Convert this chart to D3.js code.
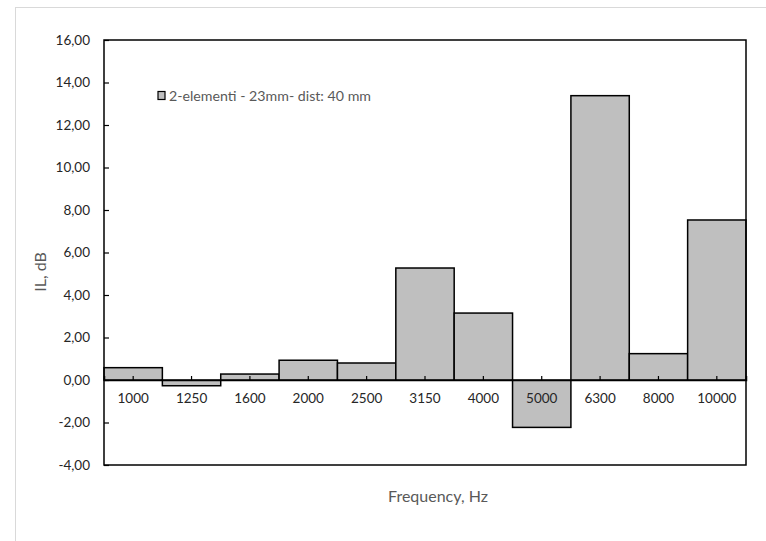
<!DOCTYPE html>
<html><head><meta charset="utf-8">
<script src="https://cdn.jsdelivr.net/npm/d3@7/dist/d3.min.js"></script>
<style>body{margin:0;background:#fff}svg{display:block}</style>
</head><body>
<script>
const categories = ["1000","1250","1600","2000","2500","3150","4000","5000","6300","8000","10000"];
const values = [0.58,-0.27,0.28,0.93,0.80,5.27,3.15,-2.23,13.38,1.24,7.53];
const yTicks = [-4,-2,0,2,4,6,8,10,12,14,16];
const seriesName = "2-elementi - 23mm- dist: 40 mm";

const W = 766, H = 541;
const m = {left:104, top:40, right:746, bottom:465};
const font = "Lato, 'Open Sans', sans-serif";
const svg = d3.select("body").append("svg").attr("width",W).attr("height",H);
svg.append("rect").attr("x",15.5).attr("y",7.5).attr("width",W).attr("height",H)
  .attr("fill","#fff").attr("stroke","#d9d9d9");

const x = d3.scaleBand().domain(categories).range([m.left,m.right]).padding(0);
const y = d3.scaleLinear().domain([-4,16]).range([m.bottom,m.top]);

// bars
svg.append("g").selectAll("rect").data(values).join("rect")
  .attr("x",(d,i)=>x(categories[i]))
  .attr("width",x.bandwidth())
  .attr("y",d=>y(Math.max(0,d)))
  .attr("height",d=>Math.abs(y(d)-y(0)))
  .attr("fill","#bfbfbf").attr("stroke","#000").attr("stroke-width",1.5);

// y axis
const ya = svg.append("g").attr("transform",`translate(${m.left},0)`)
  .call(d3.axisLeft(y).tickValues(yTicks).tickSize(-5).tickPadding(14)
    .tickFormat(d=>d3.format(".2f")(d).replace(".",",").replace("−","-")));
ya.select(".domain").remove();
ya.selectAll("line").attr("stroke","#000").attr("stroke-width",1.2);
ya.selectAll("text").attr("font-family",font).attr("font-size",13.5).attr("fill","#262626");

// x axis at zero
const xa = svg.append("g").attr("transform",`translate(0,${y(0)})`)
  .call(d3.axisBottom(x).tickSize(-4).tickPadding(13));
xa.select(".domain").attr("stroke","#000").attr("stroke-width",1.5);
xa.selectAll("line").attr("stroke","#000").attr("stroke-width",1.2);
xa.selectAll("text").attr("font-family",font).attr("font-size",13.5).attr("fill","#262626");

// plot frame
svg.append("rect").attr("x",m.left).attr("y",m.top)
  .attr("width",m.right-m.left).attr("height",m.bottom-m.top)
  .attr("fill","none").attr("stroke","#000").attr("stroke-width",1.5);

// legend
svg.append("rect").attr("x",158).attr("y",91.5).attr("width",7).attr("height",8)
  .attr("fill","#bfbfbf").attr("stroke","#000").attr("stroke-width",1.2);
svg.append("text").attr("x",169).attr("y",100.5).text(seriesName)
  .attr("font-family",font).attr("font-size",14.2).attr("fill","#595959");

// axis titles
svg.append("text").attr("x",438).attr("y",502).attr("text-anchor","middle")
  .text("Frequency, Hz").attr("font-family",font).attr("font-size",16).attr("fill","#595959");
svg.append("text").attr("transform","translate(46,272) rotate(-90)").attr("text-anchor","middle")
  .text("IL, dB").attr("font-family",font).attr("font-size",16).attr("fill","#595959");
</script>
</body></html>
